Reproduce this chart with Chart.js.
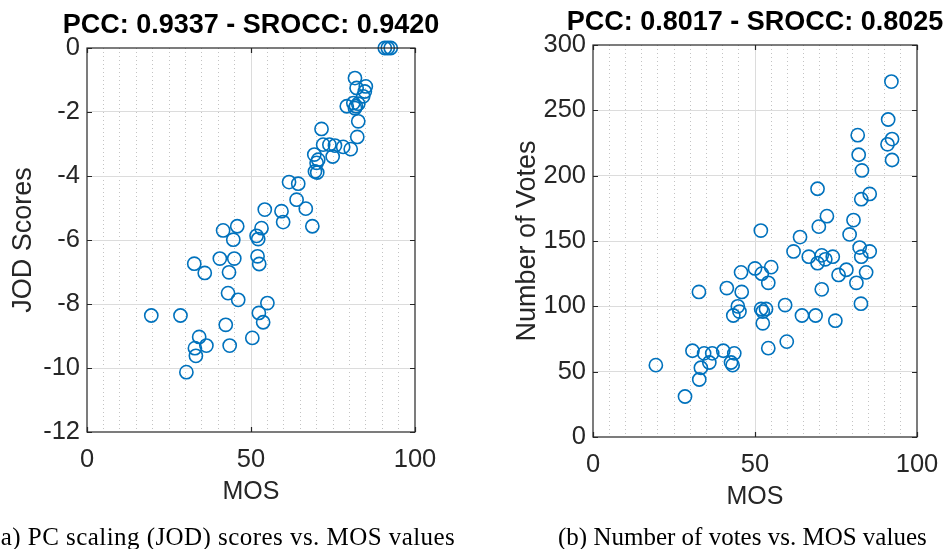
<!DOCTYPE html>
<html>
<head>
<meta charset="utf-8">
<script src="https://cdn.jsdelivr.net/npm/chart.js@4.4.1/dist/chart.umd.min.js"></script>
<style>
  html, body { margin: 0; padding: 0; background: #fff; overflow: hidden; width: 945px; height: 549px; }
  #wrap { position: relative; width: 945px; height: 549px; overflow: hidden; }
  canvas { position: absolute; top: 0; }
  .cap { position: absolute; top: 522px; font-family: "Liberation Serif", "Times New Roman", serif;
         font-size: 25px; line-height: 30px; color: #000; white-space: nowrap; }
</style>
</head>
<body>
<div id="wrap">
  <canvas id="jodChart" width="502" height="549" style="left:0"></canvas>
  <canvas id="votesChart" width="510" height="549" style="left:500px"></canvas>
  <div class="cap" style="left:-8px; letter-spacing:0.45px">(a) PC scaling (JOD) scores vs. MOS values</div>
  <div class="cap" style="left:558px">(b) Number of votes vs. MOS values</div>
</div>
<script>
// ---- (a) JOD scores against MOS ----
const mosA = [
  90.8, 91.7, 92.6,
  81.7, 82.2, 85.0, 84.7, 84.2, 79.2, 81.2, 82.0, 82.7, 81.7, 82.7, 82.4,
  71.5, 72.0, 73.9, 75.6, 78.1, 80.4, 74.9, 69.3, 70.5, 70.0, 69.5, 70.2,
  61.6, 64.4, 63.9, 66.7, 68.7, 54.2, 59.3, 59.8, 53.2, 51.7, 52.2, 45.8, 41.5, 44.6,
  32.7, 35.9, 40.5, 44.9, 43.3, 52.0, 52.5, 43.0, 46.1, 55.0, 52.4, 53.7, 19.6, 28.5,
  42.3, 50.4, 34.2, 36.4, 43.5, 32.9, 33.2, 30.3
];
const jodA = [
  0, 0, 0,
  -0.94, -1.25, -1.20, -1.36, -1.51, -1.82, -1.72, -1.82, -1.74, -1.88, -2.29, -2.78,
  -2.53, -3.02, -3.02, -3.05, -3.09, -3.16, -3.39, -3.33, -3.49, -3.59, -3.86, -3.89,
  -4.19, -4.24, -4.74, -5.02, -5.57, -5.05, -5.10, -5.44, -5.63, -5.87, -5.97, -5.57, -5.70, -5.99,
  -6.74, -7.03, -6.58, -6.58, -7.01, -6.51, -6.75, -7.66, -7.87, -7.97, -8.28, -8.57, -8.36, -8.36,
  -8.65, -9.06, -9.03, -9.30, -9.30, -9.38, -9.62, -10.13
];

// ---- (b) number of votes against MOS ----
const mosB = [
  92.1, 91.1, 92.3, 90.9, 92.3,
  81.7, 82.0, 83.0, 69.3, 82.8, 85.4,
  72.2, 69.7, 80.4, 79.2, 51.8, 63.9,
  61.9, 82.3, 85.4, 82.8, 66.6, 70.6, 71.7, 74.0, 69.3,
  78.2, 75.8, 84.3, 81.3, 82.7, 70.6, 74.8, 64.5, 68.7, 59.3, 59.8, 54.1,
  50.0, 52.1, 55.0, 54.1, 45.7, 41.3, 45.9, 32.7,
  44.7, 45.2, 43.3, 51.9, 53.4, 52.4, 52.4,
  30.7, 34.3, 36.8, 40.2, 43.6, 42.6, 43.1, 33.3, 35.9, 32.8, 19.4, 28.4
];
const votesB = [
  272, 243, 228, 224, 212,
  231, 216, 204, 190, 182, 186,
  169, 161, 166, 155, 158, 153,
  142, 145, 142, 138, 138, 139, 136, 138, 133,
  128, 124, 126, 118, 102, 113, 89, 93, 93, 101, 73, 68,
  129, 125, 130, 118, 126, 114, 111, 111,
  100, 96, 93, 98, 98, 96, 87,
  66, 64, 64, 66, 64, 57, 55, 53, 57, 44, 55, 31
];

// axis ranges and tick steps
const mosRange = [0, 100];
const mosStep = 50;
const mosMinorStep = 5;
const jodRange = [-12, 0];
const jodStep = 2;
const votesRange = [0, 300];
const votesStep = 50;

const titleA = 'PCC: 0.9337 - SROCC: 0.9420';
const titleB = 'PCC: 0.8017 - SROCC: 0.8025';

const AXIS = '#262626';
const GRID = '#dcdcdc';
const BLUE = '#0072BD';
const FONT = '"Liberation Sans", Arial, Helvetica, sans-serif';

Chart.defaults.font.family = FONT;
Chart.defaults.color = AXIS;

// bold heading centred over the plot area
const plotTitle = {
  id: 'plotTitle',
  afterDraw(chart, args, o) {
    const { ctx, chartArea: a } = chart;
    ctx.save();
    ctx.font = 'bold 27px ' + FONT;
    ctx.fillStyle = '#000';
    ctx.textAlign = 'center';
    ctx.textBaseline = 'middle';
    ctx.fillText(o.text, (a.left + a.right) / 2, o.y);
    ctx.restore();
  }
};

// box around the plot with short inward tick marks on all four sides
const boxFrame = {
  id: 'boxFrame',
  afterDatasetsDraw(chart) {
    const { ctx, chartArea: a, scales } = chart;
    ctx.save();
    ctx.strokeStyle = AXIS;
    ctx.lineWidth = 1.2;
    ctx.strokeRect(a.left, a.top, a.right - a.left, a.bottom - a.top);
    const len = 5;
    ctx.beginPath();
    scales.x.ticks.forEach(t => {
      const px = Math.round(scales.x.getPixelForValue(t.value)) + 0.5;
      ctx.moveTo(px, a.bottom); ctx.lineTo(px, a.bottom - len);
      ctx.moveTo(px, a.top); ctx.lineTo(px, a.top + len);
    });
    scales.y.ticks.forEach(t => {
      const py = Math.round(scales.y.getPixelForValue(t.value)) + 0.5;
      ctx.moveTo(a.left, py); ctx.lineTo(a.left + len, py);
      ctx.moveTo(a.right, py); ctx.lineTo(a.right - len, py);
    });
    ctx.stroke();
    ctx.restore();
  }
};

function scatterChart(id, xs, ys, opt) {
  const points = xs.map((x, i) => ({ x, y: ys[i] }));
  return new Chart(document.getElementById(id), {
    type: 'scatter',
    data: {
      datasets: [{
        data: points,
        pointStyle: 'circle',
        pointRadius: 6.6,
        pointHoverRadius: 6.6,
        pointBorderWidth: 1.6,
        borderColor: BLUE,
        backgroundColor: 'rgba(0,0,0,0)',
        clip: false
      }]
    },
    options: {
      responsive: false,
      animation: false,
      events: [],
      layout: { padding: opt.padding },
      plugins: {
        legend: { display: false },
        tooltip: { enabled: false },
        title: { display: false },
        plotTitle: { text: opt.title, y: opt.titleY }
      },
      scales: {
        x: {
          type: 'linear',
          position: 'bottom',
          min: mosRange[0], max: mosRange[1],
          ticks: { stepSize: mosStep, padding: 13, font: { size: 25.5 }, color: AXIS },
          grid: {
            drawTicks: false,
            color: c => (c.tick && c.tick.value > mosRange[0] && c.tick.value < mosRange[1]) ? GRID : 'rgba(0,0,0,0)',
            lineWidth: 1
          },
          border: { display: false },
          title: { display: true, text: 'MOS', font: { size: 25 }, color: AXIS, padding: { top: 4, bottom: 0 } },
          afterFit: s => { s.height = 75; }
        },
        xm: {
          type: 'linear',
          position: 'top',
          min: mosRange[0], max: mosRange[1],
          ticks: { display: false, stepSize: mosMinorStep },
          grid: {
            drawTicks: false,
            color: c => (c.tick && c.tick.value % mosStep !== 0) ? 'rgba(38,38,38,0.28)' : 'rgba(0,0,0,0)',
            lineWidth: 1
          },
          border: { display: false, dash: [1, 3] },
          afterFit: s => { s.height = 0; }
        },
        y: {
          type: 'linear',
          position: 'left',
          min: opt.yRange[0], max: opt.yRange[1],
          ticks: { stepSize: opt.yStep, padding: 7, font: { size: 25.5 }, color: AXIS },
          grid: {
            drawTicks: false,
            color: c => (c.tick && c.tick.value > opt.yRange[0] && c.tick.value < opt.yRange[1]) ? GRID : 'rgba(0,0,0,0)',
            lineWidth: 1
          },
          border: { display: false },
          title: { display: true, text: opt.yTitle, font: { size: 27 }, color: AXIS, padding: { top: opt.yTitlePad, bottom: 0 } },
          afterFit: s => { s.width = opt.yWidth; }
        }
      }
    },
    plugins: [boxFrame, plotTitle]
  });
}

scatterChart('jodChart', mosA, jodA, {
  title: titleA, titleY: 25.5,
  padding: { left: 0, right: 87, top: 48, bottom: 42 },
  yRange: jodRange, yStep: jodStep,
  yTitle: 'JOD Scores', yTitlePad: 7, yWidth: 87
});

scatterChart('votesChart', mosB, votesB, {
  title: titleB, titleY: 22.5,
  padding: { left: 0, right: 93, top: 45, bottom: 37 },
  yRange: votesRange, yStep: votesStep,
  yTitle: 'Number of Votes', yTitlePad: 11, yWidth: 93
});
</script>
</body>
</html>
